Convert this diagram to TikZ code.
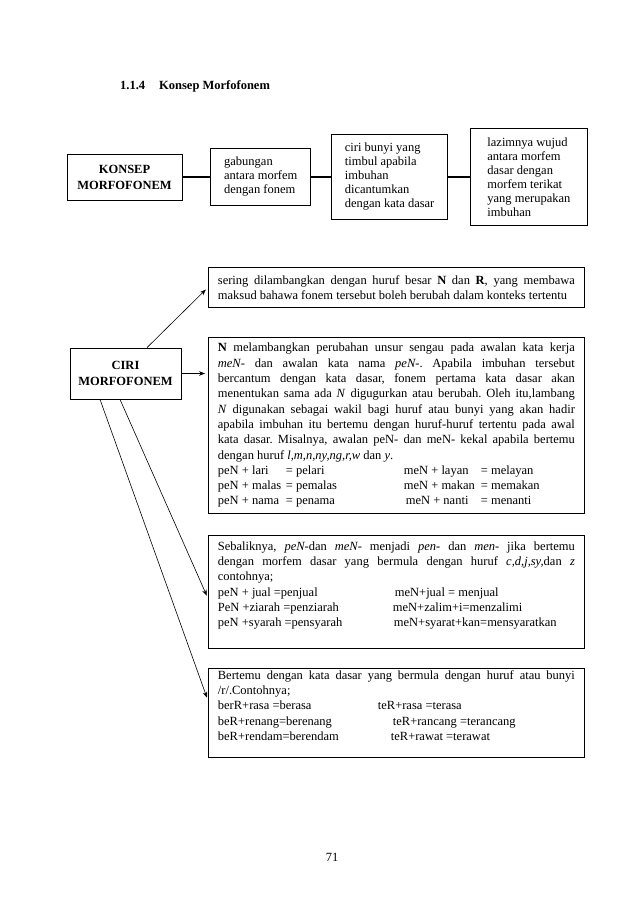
\documentclass[tikz,border=0pt]{standalone}
\usepackage{fontspec}
\setmainfont{Liberation Serif}
\usetikzlibrary{
  arrows.meta,
  positioning
}
\tikzset{
  box/.style={draw, line width=0.8pt, inner sep=4pt},
  topbox/.style={box, align=left, font=\fontsize{12.5}{14}\selectfont},
  headbox/.style={box, align=center, font=\fontsize{12.5}{16}\selectfont\bfseries},
  textbox/.style={box, anchor=north west, inner xsep=9.5pt, inner ysep=2pt,
    font=\fontsize{12.5}{15.3}\selectfont},
  bar/.style={line width=2.6pt},
  link/.style={line width=0.6pt, -{Stealth[length=6pt,width=4.5pt]}, shorten >=3pt},
}

\begin{document}
\begin{tikzpicture}[x=1pt, y=-1pt]
      \path[use as bounding box, fill=white] (0,0) rectangle (638,903);

      \node[anchor=west, inner sep=0pt, font=\fontsize{12.5}{14}\selectfont\bfseries] (heading)
        at (120,86) {1.1.4\hspace{14pt}Konsep Morfofonem};

      \node (konsep) [headbox, minimum width=115pt, minimum height=46pt] at (124.5,177) {
        KONSEP \\ MORFOFONEM
      };
      \node (gabung) [topbox, right = 28pt of konsep, minimum width=100pt, minimum height=57pt] {
        gabungan \\ antara morfem \\ dengan fonem
      };
      \node (bunyi) [topbox, right = 20pt of gabung, minimum width=116pt, minimum height=85pt] {
        ciri bunyi yang \\ timbul apabila \\ imbuhan \\ dicantumkan \\ dengan kata dasar
      };
      \node (wujud) [topbox, right = 22pt of bunyi, minimum width=117pt, minimum height=97pt] {
        lazimnya wujud \\ antara morfem \\ dasar dengan \\ morfem terikat \\ yang merupakan \\ imbuhan
      };

      \draw[bar] (konsep) -- (gabung);
      \draw[bar] (gabung) -- (bunyi);
      \draw[bar] (bunyi) -- (wujud);

      \node (ciri) [headbox, minimum width=111pt, minimum height=51pt] at (125.5,373.5) {
        CIRI \\ MORFOFONEM
      };

      \node (sering) [textbox, minimum height=40pt] at (208,267) {\parbox{357pt}{%
        \frenchspacing \tolerance=10000 \hyphenpenalty=10000 \exhyphenpenalty=10000
        sering dilambangkan dengan huruf besar \textbf{N} dan \textbf{R}, yang membawa\linebreak
        maksud bahawa fonem tersebut boleh berubah dalam konteks tertentu}};

      \node (lambang) [textbox, minimum height=176pt] at (208,337) {\parbox{357pt}{%
        \frenchspacing \tolerance=10000 \hyphenpenalty=10000 \exhyphenpenalty=10000
        \textbf{N} melambangkan perubahan unsur sengau pada awalan kata kerja\linebreak
        \textit{meN-} dan awalan kata nama \textit{peN-}. Apabila imbuhan tersebut\linebreak
        bercantum dengan kata dasar, fonem pertama kata dasar akan\linebreak
        menentukan sama ada \textit{N} digugurkan atau berubah. Oleh itu,lambang\linebreak
        \textit{N} digunakan sebagai wakil bagi huruf atau bunyi yang akan hadir\linebreak
        apabila imbuhan itu bertemu dengan huruf-huruf tertentu pada awal\linebreak
        kata dasar. Misalnya, awalan peN- dan meN- kekal apabila bertemu\linebreak
        dengan huruf \textit{l,m,n,ny,ng,r,w} dan \textit{y}.\\
        \makebox[68pt][l]{peN + lari}\makebox[118pt][l]{= pelari}\makebox[77pt][l]{meN + layan}= melayan\\
        \makebox[68pt][l]{peN + malas}\makebox[118pt][l]{= pemalas}\makebox[77pt][l]{meN + makan}= memakan\\
        \makebox[68pt][l]{peN + nama}\makebox[118pt][l]{= penama}\makebox[77pt][l]{\hspace{2pt}meN + nanti}= menanti}};

      \node (sebalik) [textbox, minimum height=113pt] at (208,535) {\parbox{357pt}{%
        \frenchspacing \tolerance=10000 \hyphenpenalty=10000 \exhyphenpenalty=10000
        Sebaliknya, \textit{peN-}dan \textit{meN-} menjadi \textit{pen-} dan \textit{men-} jika bertemu\linebreak
        dengan morfem dasar yang bermula dengan huruf \textit{c,d,j,sy,}dan \textit{z}\linebreak
        contohnya;\\
        \makebox[177pt][l]{peN + jual =penjual}meN+jual = menjual\\
        \makebox[175pt][l]{PeN +ziarah =penziarah}meN+zalim+i=menzalimi\\
        \makebox[176pt][l]{peN +syarah =pensyarah}meN+syarat+kan=mensyaratkan\\
        \mbox{}}};

      \node (bertemu) [textbox, minimum height=89pt] at (208,668) {\parbox{357pt}{%
        \frenchspacing \tolerance=10000 \hyphenpenalty=10000 \exhyphenpenalty=10000
        Bertemu dengan kata dasar yang bermula dengan huruf atau bunyi\linebreak
        /r/.Contohnya;\\
        \makebox[160pt][l]{berR+rasa =berasa}teR+rasa =terasa\\
        \makebox[175pt][l]{beR+renang=berenang}teR+rancang =terancang\\
        \makebox[173pt][l]{beR+rendam=berendam}teR+rawat =terawat\\
        \mbox{}}};

      \draw[link] ([xshift=21.5pt]ciri.north) -- (sering.west);
      \draw[link] (ciri.east) -- (ciri.east -| lambang.west);
      \draw[link] ([xshift=-5.5pt]ciri.south) -- ([yshift=-6.5pt]sebalik.west);
      \draw[link] ([xshift=-25.5pt]ciri.south) -- ([yshift=12.5pt]bertemu.west);

      \node[font=\fontsize{12.5}{14}\selectfont] (halaman) at (332,857) {71};
\end{tikzpicture}
\end{document}
